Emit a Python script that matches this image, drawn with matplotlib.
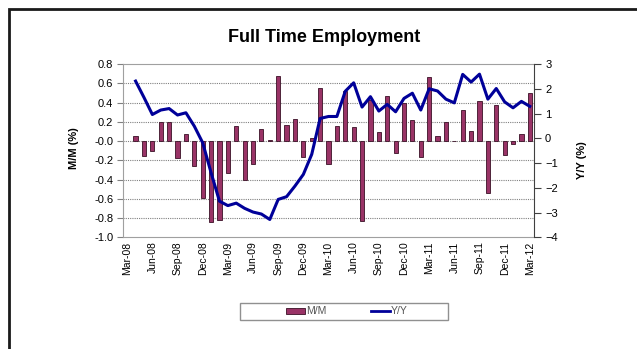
import numpy as np
import pandas as pd
import matplotlib
matplotlib.use("Agg")
import matplotlib.pyplot as plt
from matplotlib.patches import Rectangle, Patch
from matplotlib.lines import Line2D

plt.rcParams['font.family'] = ['Liberation Sans', 'DejaVu Sans']

# monthly categories, Mar-08 .. Mar-12
months = pd.date_range('2008-03-01', periods=49, freq='MS').strftime('%b-%y').tolist()

# month-on-month change (%), left axis
mm = [np.nan, 0.05, -0.16, -0.10, 0.20, 0.20, -0.18, 0.07, -0.26, -0.59,
      -0.84, -0.82, -0.33, 0.16, -0.41, -0.24, 0.13, 0.01, 0.68, 0.17,
      0.23, -0.17, 0.03, 0.55, -0.24, 0.16, 0.52, 0.15, -0.83, 0.43,
      0.09, 0.47, -0.12, 0.40, 0.22, -0.17, 0.66, 0.05, 0.20, 0.0,
      0.32, 0.10, 0.42, -0.54, 0.37, -0.15, -0.03, 0.07, 0.50]

# year-on-year change (%), right axis
yy = [np.nan, 2.31, 1.65, 0.96, 1.14, 1.20, 0.94, 1.03, 0.49, -0.18,
      -1.39, -2.54, -2.72, -2.62, -2.83, -2.98, -3.06, -3.28, -2.47, -2.36,
      -1.93, -1.46, -0.65, 0.80, 0.88, 0.88, 1.90, 2.24, 1.26, 1.68,
      1.10, 1.37, 1.07, 1.61, 1.82, 1.14, 2.00, 1.91, 1.58, 1.43,
      2.58, 2.27, 2.59, 1.58, 2.01, 1.47, 1.23, 1.49, 1.29]

bar_color = '#993366'
line_color = '#000099'

W, H = 637, 349
fig = plt.figure(figsize=(W / 100, H / 100), dpi=100)
fig.patch.set_facecolor('white')

ax = fig.add_axes([123 / W, 1 - 237.3 / H, (534 - 123) / W, (237.3 - 64) / H])
ax2 = ax.twinx()

x = np.arange(len(months))
ax.bar(x, mm, width=0.5, color=bar_color, edgecolor='#3a1026', linewidth=0.6, zorder=3)
ax2.plot(x, yy, color=line_color, linewidth=2.2, zorder=4)

ax.set_xlim(-0.5, len(months) - 0.5)
ax.set_ylim(-1.0, 0.8)
ax.set_yticks(np.arange(-1.0, 0.81, 0.2))
ax.set_yticklabels([f'{v:.1f}' for v in np.arange(-1.0, 0.81, 0.2)])
ax2.set_ylim(-4, 3)
ax2.set_yticks(range(-4, 4))

ax.set_xticks(x[::3])
ax.set_xticklabels(months[::3], rotation=90)

# dotted horizontal grid on the left scale
for v in np.arange(-0.8, 0.79, 0.2):
    ax.axhline(v, color='#808080', linewidth=0.8, linestyle=(0, (1, 1)), zorder=1)

for s in ['top', 'left', 'bottom']:
    ax.spines[s].set_color('#a0a0a0')
ax.spines['right'].set_visible(False)
for s in ['top', 'left', 'bottom']:
    ax2.spines[s].set_visible(False)
ax2.spines['right'].set_color('#404040')

ax.tick_params(axis='y', labelsize=8, length=4, color='#808080', pad=3)
ax.tick_params(axis='x', labelsize=7.5, length=0, pad=3)
ax2.tick_params(axis='y', labelsize=8, length=5, color='#404040', pad=3)

fig.text(324 / W, 1 - 38 / H, 'Full Time Employment', ha='center', va='center',
         fontsize=13, fontweight='bold')
fig.text(74 / W, 1 - 148 / H, 'M/M (%)', ha='center', va='center',
         rotation=90, fontsize=8, fontweight='bold')
fig.text(582 / W, 1 - 160 / H, 'Y/Y (%)', ha='center', va='center',
         rotation=90, fontsize=8, fontweight='bold')

# legend box drawn separately so the entries sit centred inside a wider frame
fig.patches.append(Rectangle((240 / W, 1 - 320 / H), 208 / W, 17 / H,
                             transform=fig.transFigure, fill=False,
                             edgecolor='#909090', linewidth=1.0))
handles = [Patch(facecolor=bar_color, edgecolor='#3a1026', linewidth=0.6),
           Line2D([], [], color=line_color, linewidth=2)]
fig.legend(handles, ['M/M', 'Y/Y'], loc='center',
           bbox_to_anchor=(347 / W, 1 - 311.5 / H), ncol=2,
           fontsize=7.5, frameon=False,
           handlelength=1.8, handleheight=0.5, handletextpad=0.1,
           columnspacing=4.3, borderpad=0.3, labelcolor='#555555')

# dark outer border
fig.patches.append(Rectangle((9 / W, -0.1), 1.2, 1 - 9.5 / H + 0.1,
                             transform=fig.transFigure, fill=False,
                             edgecolor='#1a1a1a', linewidth=2))

fig.savefig('out.png', dpi=100)
